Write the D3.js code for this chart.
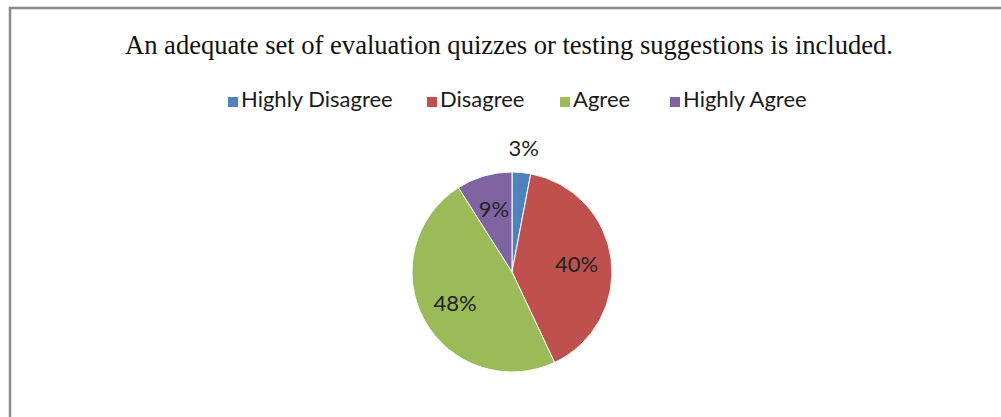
<!DOCTYPE html>
<html>
<head>
<meta charset="utf-8">
<script src="https://cdn.jsdelivr.net/npm/d3@7"></script>
<style>
  body { margin: 0; background: #fff; }
  svg { display: block; }
</style>
</head>
<body>
<div id="chart"></div>
<script>
// chart data
var categories = ["Highly Disagree", "Disagree", "Agree", "Highly Agree"];
var values = [3, 40, 48, 9];
var labels = ["3%", "40%", "48%", "9%"];
var colors = ["#4F81BD", "#C0504D", "#9BBB59", "#8064A2"];

var width = 1001, height = 417;

var svg = d3.select("#chart").append("svg")
  .attr("width", width)
  .attr("height", height);

svg.append("rect")
  .attr("width", width).attr("height", height)
  .style("fill", "#fff");

// frame of the chart area (runs off right and bottom)
svg.append("path")
  .attr("d", "M10," + (height + 5) + "V8H" + (width + 5))
  .style("fill", "none")
  .style("stroke", "#8a8a8a")
  .style("stroke-width", 2.5);

// title
svg.append("text")
  .attr("x", 509)
  .attr("y", 54)
  .style("text-anchor", "middle")
  .style("font-family", "'Liberation Serif', 'Times New Roman', serif")
  .style("font-size", "27px")
  .style("fill", "#111")
  .attr("textLength", 768)
  .attr("lengthAdjust", "spacingAndGlyphs")
  .text("An adequate set of evaluation quizzes or testing suggestions is included.");

// legend
var legendX = [228, 427, 560, 670];
var legend = svg.append("g").selectAll("g")
  .data(categories)
  .enter().append("g")
  .attr("transform", function(d, i) { return "translate(" + legendX[i] + ",107)"; });

legend.append("rect")
  .attr("x", 0).attr("y", -10)
  .attr("width", 10).attr("height", 10)
  .style("fill", function(d, i) { return colors[i]; });

legend.append("text")
  .attr("x", 13)
  .attr("y", 0)
  .style("font-family", "Lato, 'Open Sans', sans-serif")
  .style("font-size", "22px")
  .style("fill", "#1a1a1a")
  .text(function(d) { return d; });

// pie
var cx = 512, cy = 272, r = 100;
var pie = d3.pie().sort(null).value(function(d) { return d; });
var arc = d3.arc().innerRadius(0).outerRadius(r);
var arcs = pie(values);

var g = svg.append("g").attr("transform", "translate(" + cx + "," + cy + ")");

g.selectAll("path")
  .data(arcs)
  .enter().append("path")
  .attr("d", arc)
  .style("fill", function(d, i) { return colors[i]; })
  .style("stroke", "#fff")
  .style("stroke-width", 1);

// data labels: inside for the big slices, outside for the tiny one
var labelArc = d3.arc().innerRadius(r * 0.65).outerRadius(r * 0.65);
var outerArc = d3.arc().innerRadius(r * 1.24).outerRadius(r * 1.24);

g.selectAll("text")
  .data(arcs)
  .enter().append("text")
  .attr("transform", function(d, i) {
    var p = (i === 0 ? outerArc : labelArc).centroid(d);
    return "translate(" + p[0] + "," + p[1] + ")";
  })
  .attr("dy", "0.35em")
  .style("text-anchor", "middle")
  .style("font-family", "Lato, 'Open Sans', sans-serif")
  .style("font-size", "22px")
  .style("fill", "#222")
  .text(function(d, i) { return labels[i]; });
</script>
</body>
</html>
